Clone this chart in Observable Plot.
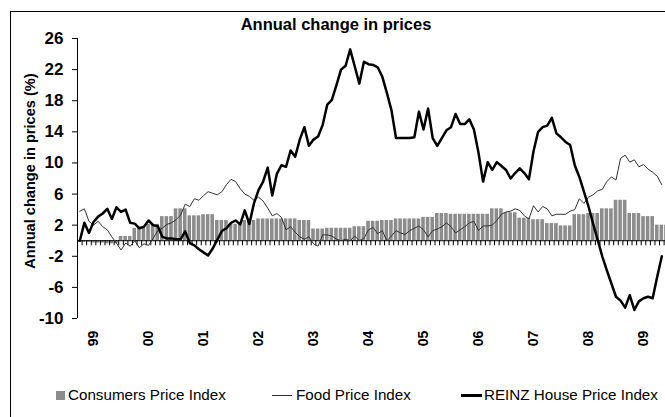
<!DOCTYPE html>
<html>
<head>
<meta charset="utf-8">
<script src="https://cdn.jsdelivr.net/npm/d3@7"></script>
<script src="https://cdn.jsdelivr.net/npm/@observablehq/plot@0.6"></script>
<style>
html, body { margin: 0; padding: 0; background: #fff; overflow: hidden; }
#wrap { position: relative; width: 665px; height: 417px; overflow: hidden; font-family: "Liberation Sans", Arial, sans-serif; color: #000; }
#border { position: absolute; left: 10px; top: 11px; width: 800px; height: 600px; border: 1px solid #000; box-sizing: border-box; }
#chart { position: absolute; left: 0; top: 0; }
#title { position: absolute; left: 0; width: 672px; top: 15px; text-align: center; font-weight: bold; font-size: 16.5px; }
#ytitle { position: absolute; left: 30px; top: 171px; transform: translate(-50%, -50%) rotate(-90deg); white-space: nowrap; font-weight: bold; font-size: 14.6px; }
.leg { position: absolute; top: 386px; font-size: 15.2px; white-space: nowrap; }
.key { position: absolute; }
</style>
</head>
<body>
<div id="wrap">
  <div id="border"></div>
  <div id="chart"></div>
  <div id="title">Annual change in prices</div>
  <div id="ytitle">Annual change in prices (%)</div>
  <div class="key" style="left:56px; top:391px; width:9px; height:9px; background:#8c8c8c;"></div>
  <div class="leg" style="left:68px;">Consumers Price Index</div>
  <div class="key" style="left:272px; top:395px; width:20px; height:1px; background:#333;"></div>
  <div class="leg" style="left:296px;">Food Price Index</div>
  <div class="key" style="left:461px; top:394px; width:21px; height:3px; background:#000;"></div>
  <div class="leg" style="left:484px;">REINZ House Price Index</div>
</div>
<script>
// Monthly series, first month = Oct 1998
const yearLabels = ["99","00","01","02","03","04","05","06","07","08","09"];
const yTicks = [-10, -6, -2, 2, 6, 10, 14, 18, 22, 26];

// Consumers Price Index, annual % change, one value per quarter (Dec 1998 qtr ... Jun 2009 qtr)
const cpiQuarterly = [
  -0.2, -0.3, -0.4, 0.55, 1.6, 2.1, 3.1, 4.1, 3.2, 3.35,
  2.6, 2.1, 2.6, 2.8, 2.8, 2.8, 2.6, 1.5, 1.6, 1.6,
  1.8, 2.5, 2.6, 2.8, 2.8, 3.0, 3.5, 3.4, 3.4, 3.4,
  4.1, 3.6, 2.9, 2.7, 2.2, 1.9, 3.35, 3.5, 4.1, 5.2,
  3.5, 3.1, 2.0
];

// Food Price Index, annual % change, monthly
const foodPrice = [
  3.8, 4.1, 2.5, 2.0, 2.5, 1.8, 1.4, 0.5, -0.3, -1.2,
  -0.3, -0.7, 0.0, -0.9, -0.4, -0.6, 0.3, 1.3, 1.6, 2.1,
  2.3, 2.7, 3.3, 4.7, 4.4, 5.4, 5.2, 5.8, 6.3, 6.1,
  5.9, 6.3, 7.2, 7.9, 7.6, 6.7, 6.0, 5.7, 5.2, 5.6,
  5.1, 4.2, 3.2, 3.5, 3.0, 1.4, 1.8, 1.1, 0.5, 0.2,
  0.5, -0.4, -0.7, 0.75, 0.75, 0.6, 0.2, 0.0, 0.2, 0.0,
  0.6, 0.0, 0.3, 1.4, 1.7, 0.9, 1.3, 0.0, 0.6, 1.3,
  1.0, 0.8, 1.3, 1.6, 1.9, 1.4, 0.5, 1.3, 1.5, 1.8,
  2.3, 1.8, 1.0, 1.4, 1.8, 2.3, 2.5, 1.3, 1.9, 1.9,
  2.0, 2.6, 3.4, 3.7, 3.8, 4.1, 3.9, 3.2, 2.8, 4.5,
  3.7, 4.4, 4.1, 3.2, 3.4, 3.4, 3.4, 3.8, 4.0, 5.4,
  4.8, 5.6, 5.9, 6.4, 6.6, 7.6, 8.2, 7.8, 10.6, 11.0,
  10.1, 10.4, 9.5, 9.8, 9.2, 8.8, 8.3, 7.2
];

// REINZ House Price Index, annual % change, monthly
const housePrice = [
  0.0, 2.3, 1.0, 2.4, 3.1, 3.5, 4.1, 2.8, 4.3, 3.7,
  4.0, 2.3, 2.2, 1.6, 1.8, 2.6, 2.0, 1.9, 0.5, 0.3,
  0.3, 0.2, 0.2, 1.2, -0.3, -0.6, -1.1, -1.5, -1.9, -1.0,
  0.1, 1.25, 1.6, 2.3, 2.6, 2.1, 3.9, 2.15, 4.8, 6.5,
  7.6, 9.4, 5.8, 8.6, 9.7, 9.5, 11.6, 10.8, 13.0, 14.6,
  12.2, 13.0, 13.4, 14.9, 17.5, 18.1, 20.0, 22.0, 22.5, 24.6,
  22.4, 20.2, 23.0, 22.7, 22.6, 22.3, 21.1, 19.0, 16.8, 13.2,
  13.2, 13.2, 13.2, 13.3, 16.6, 14.3, 17.0, 13.2, 12.2, 13.2,
  14.2, 14.6, 16.3, 15.0, 15.0, 15.6, 14.3, 11.3, 7.6, 10.1,
  9.1, 10.1, 9.6, 9.1, 8.0, 8.7, 9.3, 8.7, 7.9, 11.5,
  14.0, 14.6, 14.8, 15.8, 13.8, 13.3, 12.7, 12.3, 9.7, 8.2,
  6.3, 4.4, 2.2, 0.1, -2.0, -3.8, -5.5, -7.2, -7.7, -8.6,
  -7.0, -8.9, -7.8, -7.4, -7.2, -7.4, -4.6, -2.0
];

// derived tables
const cpiMonthly = cpiQuarterly.flatMap((v, q) => [0, 1, 2].map(k => ({m: q * 3 + k, v})));
const nMonths = cpiMonthly.length;
const yearTickMonth = yearLabels.map((_, k) => 3 + 12 * k);     // January of each year
const monthBounds = d3.range(nMonths + 1).map(m => m - 0.5);

const chart = Plot.plot({
  width: 665,
  height: 417,
  marginLeft: 77,
  marginRight: 0,
  marginTop: 38,
  marginBottom: 99,
  x: {type: "linear", domain: [-0.5, nMonths - 0.5], range: [77, 77 + nMonths * 4.583], axis: null},
  y: {domain: [-10, 26], range: [318, 38]},
  style: {fontFamily: "'Liberation Sans', Arial, sans-serif", color: "#000", background: "transparent"},
  marks: [
    Plot.rectY(cpiMonthly, {x1: d => d.m - 0.5, x2: d => d.m + 0.5, y1: 0, y2: "v", fill: "#8c8c8c", insetLeft: 0.5, insetRight: 0.5}),
    Plot.ruleY([0], {stroke: "#000", strokeWidth: 1}),
    Plot.ruleX(monthBounds, {y1: 0, y2: -0.65, stroke: "#000", strokeWidth: 1}),
    Plot.line(foodPrice, {x: (d, i) => i, y: d => d, stroke: "#333", strokeWidth: 1}),
    Plot.line(housePrice, {x: (d, i) => i, y: d => d, stroke: "#000", strokeWidth: 2.5}),
    Plot.ruleX([-0.5], {y1: yTicks[0], y2: yTicks[yTicks.length - 1], stroke: "#000"}),
    Plot.axisY(yTicks, {anchor: "left", tickSize: 5, tickPadding: 9, fontSize: 17, fontWeight: "bold", label: null, tickFormat: d => String(d)}),
    Plot.text(yearTickMonth, {x: d => d, frameAnchor: "bottom", dy: 20, rotate: -90, text: (d, i) => yearLabels[i], textAnchor: "middle", lineAnchor: "middle", fontSize: 14, fontWeight: "bold"})
  ]
});
document.getElementById("chart").appendChild(chart);
</script>
</body>
</html>
